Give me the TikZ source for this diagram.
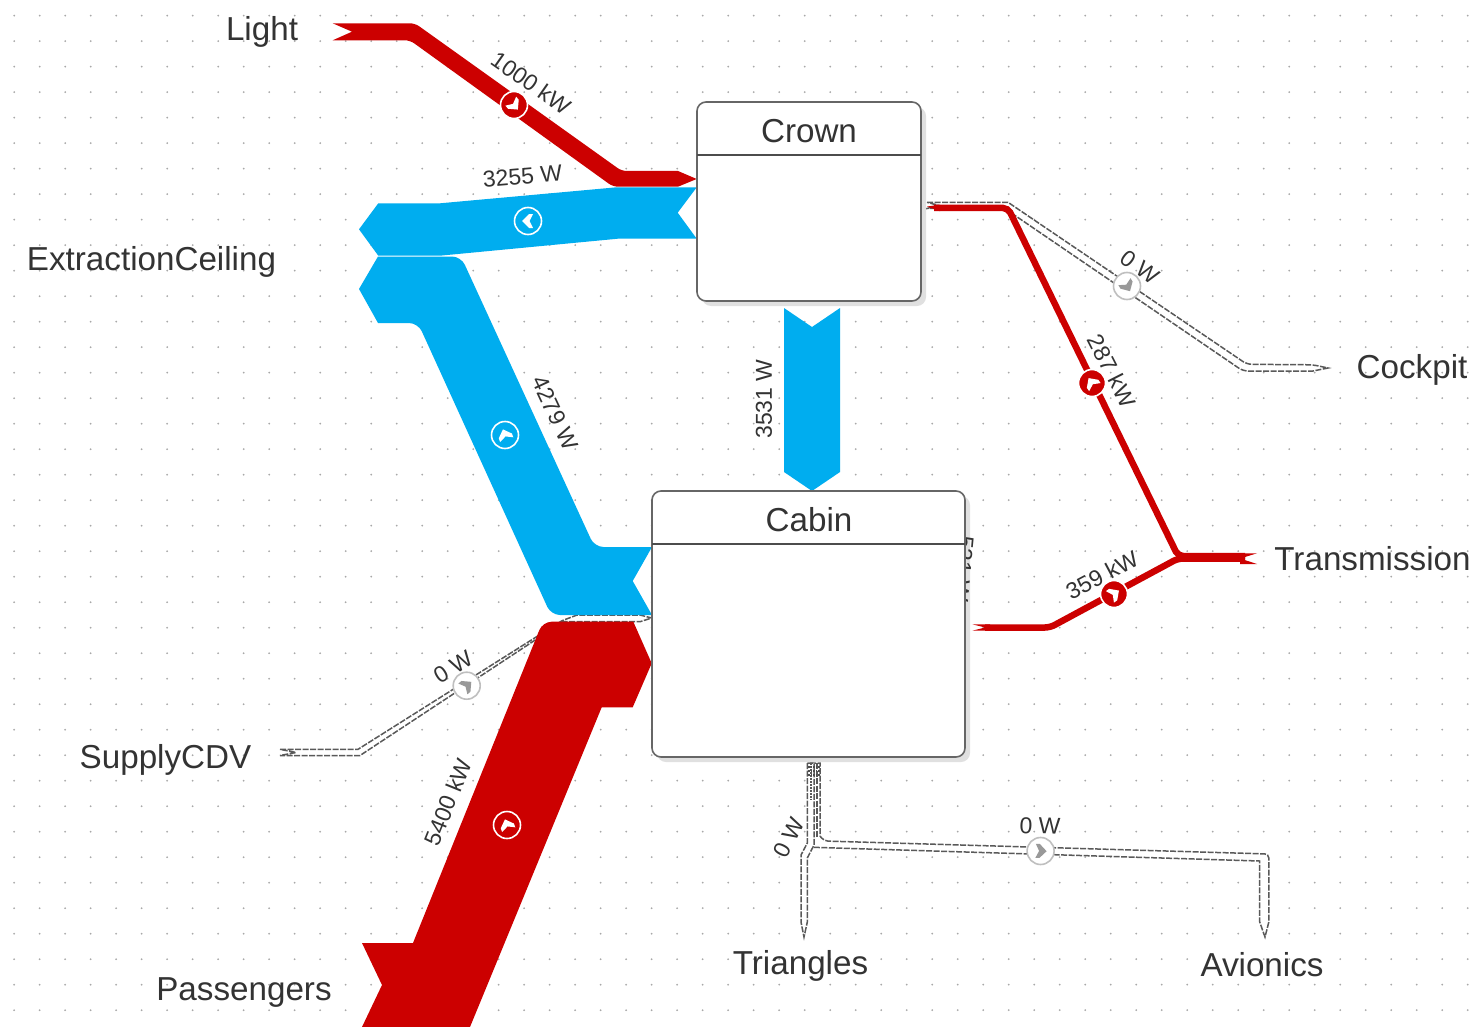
\documentclass[tikz,border=0pt]{standalone}
\usepackage{fontspec}
\setmainfont{Liberation Sans}
\definecolor{sred}{HTML}{CC0000}
\definecolor{sblue}{HTML}{00ADEF}
\definecolor{txt}{HTML}{333333}
\definecolor{gridc}{HTML}{A8A8A8}
\tikzset{
  bigtext/.style={font=\fontsize{33.2}{33.2}\selectfont,text=txt,inner sep=0pt},
  flowtext/.style={font=\fontsize{23}{23}\selectfont,text=txt,inner sep=0pt},
  box/.style={draw=black!60,line width=1.6pt,fill=white,rounded corners=9pt,outer sep=0pt},
  boxshadow/.style={fill=black!12,rounded corners=9pt},
  redband/.style={fill=sred,draw=none},
  blueband/.style={fill=sblue,draw=none},
  zeroband/.style={fill=white,draw=black!65,line width=1.5pt,dash pattern=on 6pt off 1.5pt},
  zeroline/.style={draw=black!65,line width=1.5pt,dash pattern=on 6pt off 1.5pt},
  thinred/.style={draw=sred,line width=6.5pt,rounded corners=5pt},
  markdisc/.style={circle,minimum size=27pt,inner sep=0pt,line width=1.6pt},
}
\newcommand{\chevronshape}{(-5,-7) -- (-1,-7) -- (6,0) -- (-1,7) -- (-5,7) -- (-1.5,0) -- cycle}
\newcommand{\flowmark}[6]{%
  \node[markdisc,fill=#5,draw=#6] (#1) at (#2,#3) {};
  \begin{scope}[shift={(#2,#3)},rotate=#4]
    \fill[#6] \chevronshape;
  \end{scope}%
}
\begin{document}
\begin{tikzpicture}[x=1pt,y=-1pt]
\useasboundingbox (0,0) rectangle (1477,1027);
\fill[white] (0,0) rectangle (1477,1027);
% dotted grid
\foreach \i in {0,...,57}{\foreach \j in {0,...,39}{
  \fill[gridc] ({14.2+25.5*\i},{15.7+25.5*\j}) circle (1pt);
}}
% zero flows
\draw[zeroband] (927,202.3) -- (1008,202.3) [rounded corners=5pt] -- (1247,364.3) -- (1313,364.8) [sharp corners] -- (1328,368) -- (1313,371) [rounded corners=5pt] -- (1243,371) -- (1004,208) [sharp corners] -- (927,208.5) -- (938,205.3) -- cycle;
\draw[zeroband] (280,749.3) -- (358,749.3) -- (562,620.7) -- (577,615) -- (640,615) -- (651.7,618) -- (640,621.7) -- (563,621.7) -- (360,755.5) -- (280,755.5) -- (296,752.5) -- cycle;
\draw[zeroband] (810,763) -- (820,763) -- (820,836) [rounded corners=4pt] -- (824,841) -- (1268.8,854) [sharp corners] -- (1268.8,922) -- (1265,937) -- (1259.7,922) -- (1259.7,861) -- (815.8,847.4) -- (810,847) -- cycle;
\draw[zeroband] (807.3,763) -- (814,763) -- (814,845) -- (807.3,858) -- (807.3,922) -- (804,937) -- (801,922) -- (801,855) -- (807.3,843) -- cycle;
\draw[zeroline] (817,763) -- (817,838);
\draw[zeroline,dash pattern=on 2pt off 1pt] (811,763) -- (811,800);
\draw[black!70,line width=1.4pt,dash pattern=on 1.5pt off 1pt] (808,767) -- (820,767) (808,771) -- (820,771) (808,775) -- (820,775);
% thin red flows
\draw[thinred] (934,208) -- (1008,208) -- (1178,556) -- (1245,556);
\fill[sred] (927,206.5) -- (940,204.8) -- (940,211.2) -- cycle;
\draw[thinred] (985,627.5) -- (1050,627.5) -- (1178,558.5) -- (1245,558.5);
\fill[sred] (972.3,624.3) -- (990,624.3) -- (990,630.7) -- (972.3,630.7) -- (985,627.5) -- cycle;
\fill[sred] (1240,553.3) -- (1257,553.3) -- (1240,558.5) -- (1257,564) -- (1240,564) -- cycle;
% large flows
\fill[redband] (332.7,23.3) -- (352,31.7) -- (332.7,40.3) [rounded corners=5pt] -- (410,40.3) -- (613,186.7) [sharp corners] -- (678,186.7) -- (696.7,179) -- (678,171) [rounded corners=5pt] -- (621.7,171) -- (415,23.3) [sharp corners] -- cycle;
\fill[blueband] (359,229.3) -- (378.3,203.3) -- (440,203.3) -- (616.7,187.3) -- (696.7,187.3) -- (677.7,212.7) -- (696.7,238.7) -- (618,238.7) -- (440,255.7) -- (378.3,255.7) -- cycle;
\fill[blueband] (359,289) -- (378,256.5) [rounded corners=9pt] -- (461,256.5) -- (594.5,547) [sharp corners] -- (652,547) -- (632.7,581) -- (652,615) [rounded corners=9pt] -- (551,615) -- (418,323) [sharp corners] -- (378,323) -- cycle;
\fill[redband] (362,943) -- (413,943) [rounded corners=9pt] -- (542.7,621.7) [sharp corners] -- (633.3,621.7) -- (651.7,663.3) -- (632.7,707.3) -- (601.7,707.3) -- (470,1027) -- (362,1027) -- (382,985) -- cycle;
\fill[blueband] (784,308) -- (812,327) -- (840,308) -- (840,472) -- (812,491) -- (784,472) -- cycle;
% boxes
\fill[boxshadow] (702,107) rectangle (926,306);
\fill[boxshadow] (657,496) rectangle (970,762);
\node[flowtext,rotate=-95] (lhidden) at (963,569) {531 W};
\node[box,minimum width=224pt,minimum height=199pt,inner sep=0pt,anchor=north west] (crown) at (697,102) {};
\node[box,minimum width=313pt,minimum height=266pt,inner sep=0pt,anchor=north west] (cabin) at (652,491) {};
\draw[black!70,line width=1.2pt] (crown.west |- 0,155) -- (crown.east |- 0,155);
\draw[black!70,line width=1.2pt] (cabin.west |- 0,544) -- (cabin.east |- 0,544);
\node[bigtext] (tcrown) at (809,131) {Crown};
\node[bigtext] (tcabin) at (809,520) {Cabin};
% terminal labels
\node[bigtext] (light) at (262,32) {Light};
\node[bigtext] (extr) at (151.5,262) {ExtractionCeiling};
\node[bigtext] (cockpit) at (1412,370) {Cockpit};
\node[bigtext] (trans) at (1372.5,559) {Transmission};
\node[bigtext] (supply) at (165.5,760) {SupplyCDV};
\node[bigtext] (pass) at (244,993) {Passengers};
\node[bigtext] (tri) at (800.5,966) {Triangles};
\node[bigtext] (avi) at (1262,965) {Avionics};
% flow labels
\node[flowtext,rotate=-35] (l1) at (531,83) {1000 kW};
\node[flowtext,rotate=5] (l2) at (522.5,176.5) {3255 W};
\node[flowtext,rotate=-65] (l3) at (555,413) {4279 W};
\node[flowtext,rotate=90] (l4) at (764,399) {3531 W};
\node[flowtext,rotate=-37] (l5) at (1140,267) {0 W};
\node[flowtext,rotate=-63] (l6) at (1112,371) {287 kW};
\node[flowtext,rotate=28] (l7) at (1102,575) {359 kW};
\node[flowtext,rotate=32] (l8) at (453,667) {0 W};
\node[flowtext,rotate=68] (l9) at (448,802) {5400 kW};
\node[flowtext,rotate=63] (l10) at (789,838) {0 W};
\node[flowtext,rotate=-2] (l11) at (1040,826) {0 W};
% flow markers
\flowmark{m1}{514}{105}{-50}{sred}{white}
\flowmark{m2}{528}{221}{180}{sblue}{white}
\flowmark{m3}{505}{435}{110}{sblue}{white}
\flowmark{m4}{1092}{383}{125}{sred}{white}
\flowmark{m5}{1114}{594}{35}{sred}{white}
\flowmark{m6}{507}{825}{110}{sred}{white}
\node[markdisc,fill=white,draw=black!25] (m7) at (1127,286) {};
\begin{scope}[shift={(1127,286)},rotate=-60]\fill[black!40] \chevronshape;\end{scope}
\node[markdisc,fill=white,draw=black!25] (m8) at (466.7,685.7) {};
\begin{scope}[shift={(466.7,685.7)},rotate=40]\fill[black!40] \chevronshape;\end{scope}
\node[markdisc,fill=white,draw=black!25] (m9) at (1040.6,851) {};
\begin{scope}[shift={(1040.6,851)},rotate=-2]\fill[black!40] \chevronshape;\end{scope}
\end{tikzpicture}
\end{document}
